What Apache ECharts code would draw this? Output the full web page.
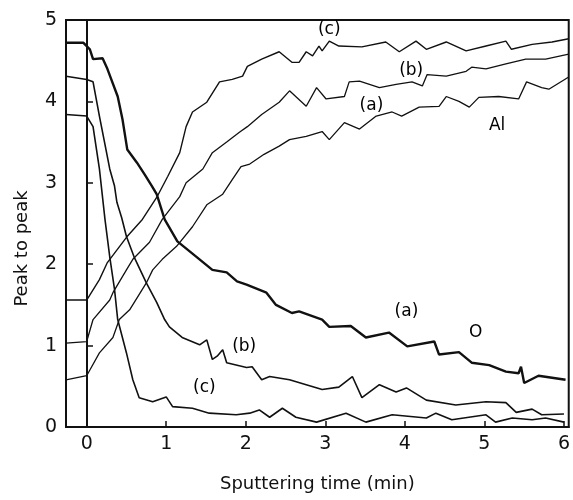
<!DOCTYPE html>
<html>
<head>
<meta charset="utf-8">
<script src="https://cdn.jsdelivr.net/npm/echarts@6/dist/echarts.min.js"></script>
<style>
    html, body { margin: 0; padding: 0; background: #fff; }
    #chart { width: 573px; height: 500px; }
</style>
</head>
<body>
<div id="chart"></div>
<script>
    // values: [time (min), peak to peak]
    var alA = [[-0.26,0.58],[0,0.63],[0.04,0.70],[0.16,0.91],[0.33,1.10],[0.41,1.32],[0.54,1.44],[0.75,1.77],[0.83,1.93],[0.95,2.06],[1.13,2.22],[1.33,2.46],[1.51,2.73],[1.71,2.86],[1.83,3.04],[1.94,3.20],[2.05,3.23],[2.23,3.35],[2.42,3.45],[2.55,3.53],[2.76,3.57],[2.96,3.63],[3.05,3.53],[3.24,3.74],[3.43,3.66],[3.64,3.82],[3.84,3.87],[3.96,3.82],[4.18,3.93],[4.43,3.94],[4.52,4.06],[4.68,4.00],[4.81,3.93],[4.93,4.05],[5.18,4.06],[5.43,4.03],[5.53,4.24],[5.72,4.17],[5.81,4.15],[6.06,4.30]];
    var alB = [[-0.26,1.03],[0,1.05],[0.08,1.32],[0.29,1.56],[0.33,1.65],[0.50,1.93],[0.58,2.06],[0.79,2.27],[0.95,2.55],[1.17,2.83],[1.25,3.00],[1.46,3.17],[1.58,3.37],[1.76,3.50],[1.92,3.62],[2.02,3.69],[2.20,3.84],[2.42,3.99],[2.55,4.13],[2.76,3.94],[2.89,4.17],[3.01,4.03],[3.24,4.06],[3.30,4.24],[3.43,4.25],[3.68,4.17],[3.89,4.21],[4.09,4.24],[4.22,4.19],[4.28,4.33],[4.52,4.31],[4.77,4.37],[4.84,4.42],[5.02,4.40],[5.27,4.46],[5.52,4.52],[5.77,4.52],[6.06,4.58]];
    var alC = [[-0.26,1.56],[0,1.56],[0.16,1.81],[0.26,2.02],[0.50,2.33],[0.70,2.55],[0.88,2.82],[1.02,3.08],[1.17,3.37],[1.25,3.69],[1.33,3.87],[1.51,3.99],[1.67,4.24],[1.83,4.27],[1.96,4.31],[2.02,4.43],[2.20,4.52],[2.42,4.61],[2.58,4.48],[2.67,4.48],[2.76,4.61],[2.84,4.56],[2.92,4.68],[2.96,4.62],[3.05,4.74],[3.17,4.68],[3.46,4.67],[3.76,4.73],[3.93,4.61],[4.14,4.74],[4.27,4.64],[4.52,4.73],[4.77,4.62],[5.02,4.68],[5.27,4.74],[5.34,4.64],[5.60,4.70],[5.85,4.73],[6.06,4.77]];
    var oA = [[-0.26,4.72],[-0.04,4.72],[0.04,4.64],[0.08,4.52],[0.20,4.53],[0.26,4.40],[0.39,4.06],[0.45,3.78],[0.51,3.41],[0.63,3.25],[0.73,3.10],[0.82,2.96],[0.88,2.86],[0.98,2.55],[1.14,2.28],[1.38,2.09],[1.58,1.93],[1.76,1.90],[1.89,1.79],[2.01,1.75],[2.26,1.65],[2.38,1.50],[2.58,1.40],[2.67,1.42],[2.96,1.32],[3.05,1.23],[3.32,1.24],[3.51,1.10],[3.80,1.16],[4.03,0.99],[4.37,1.05],[4.43,0.89],[4.68,0.92],[4.84,0.79],[5.06,0.76],[5.27,0.68],[5.43,0.66],[5.46,0.74],[5.50,0.54],[5.68,0.63],[6.02,0.58]];
    var oB = [[-0.26,4.31],[0,4.27],[0.08,4.24],[0.16,3.82],[0.25,3.37],[0.29,3.17],[0.35,2.96],[0.38,2.76],[0.44,2.57],[0.50,2.34],[0.60,2.08],[0.75,1.77],[0.88,1.53],[0.98,1.32],[1.04,1.23],[1.20,1.10],[1.42,1.01],[1.51,1.07],[1.58,0.83],[1.64,0.87],[1.71,0.95],[1.76,0.79],[2.01,0.73],[2.08,0.74],[2.20,0.58],[2.30,0.62],[2.55,0.58],[2.76,0.52],[2.96,0.46],[3.17,0.49],[3.34,0.62],[3.46,0.36],[3.68,0.52],[3.89,0.43],[4.02,0.48],[4.27,0.33],[4.64,0.27],[5.02,0.31],[5.27,0.30],[5.40,0.18],[5.60,0.22],[5.72,0.15],[6.00,0.16]];
    var oC = [[-0.26,3.84],[0,3.82],[0.08,3.69],[0.16,3.17],[0.23,2.55],[0.29,2.09],[0.35,1.69],[0.39,1.32],[0.50,0.91],[0.58,0.58],[0.66,0.36],[0.83,0.31],[1.00,0.37],[1.08,0.25],[1.33,0.23],[1.54,0.17],[1.88,0.15],[2.05,0.17],[2.17,0.21],[2.30,0.12],[2.46,0.23],[2.63,0.12],[2.89,0.06],[3.26,0.17],[3.51,0.06],[3.84,0.15],[4.27,0.11],[4.39,0.17],[4.59,0.09],[5.02,0.15],[5.14,0.06],[5.35,0.11],[5.60,0.09],[5.77,0.11],[6.00,0.06]];

    var xTicks = [0, 1, 2, 3, 4, 5, 6];

    // curve labels, placed in data coordinates
    var labelText = ['(c)', '(b)', '(a)', 'Al', '(a)', 'O', '(b)', '(c)'];
    var labelPos = [[3.05,4.88],[4.08,4.38],[3.58,3.95],[5.16,3.70],[4.02,1.42],[4.89,1.16],[1.98,0.99],[1.48,0.48]];

    var FONT = 'DejaVu Sans';
    var INK = '#111';

    function curve(name, data, width) {
        return {
            name: name,
            type: 'line',
            data: data,
            symbol: 'none',
            smooth: false,
            silent: true,
            lineStyle: { color: INK, width: width }
        };
    }

    var series = [
        curve('Al (a)', alA, 1.3),
        curve('Al (b)', alB, 1.3),
        curve('Al (c)', alC, 1.4),
        curve('O (a)', oA, 2.4),
        curve('O (b)', oB, 1.6),
        curve('O (c)', oC, 1.6),
        {
            type: 'scatter',
            symbolSize: 0,
            silent: true,
            itemStyle: { color: INK, opacity: 1 },
            data: labelPos.map(function (p, i) { return { value: p, name: labelText[i] }; }),
            label: {
                show: true,
                position: 'inside',
                formatter: '{b}',
                fontFamily: FONT,
                fontSize: 17,
                color: '#000',
                textBorderWidth: 0
            },
            markLine: {
                silent: true,
                symbol: 'none',
                label: { show: false },
                lineStyle: { color: INK, width: 2, type: 'solid' },
                data: [{ xAxis: 0 }]
            }
        }
    ];

    var chart = echarts.init(document.getElementById('chart'));
    chart.setOption({
        animation: false,
        backgroundColor: '#fff',
        grid: {
            left: 66, right: 3, top: 20, bottom: 73,
            show: true,
            borderColor: INK,
            borderWidth: 2,
            backgroundColor: 'transparent'
        },
        xAxis: {
            type: 'value',
            min: -0.26,
            max: 6.06,
            name: 'Sputtering time (min)',
            nameLocation: 'middle',
            nameGap: 48,
            nameTextStyle: { fontFamily: FONT, fontSize: 18, color: INK },
            axisLine: { show: true, onZero: false, lineStyle: { color: INK, width: 2 } },
            axisTick: { show: true, inside: true, length: 6, customValues: xTicks, lineStyle: { color: INK, width: 1.5 } },
            axisLabel: { customValues: xTicks, fontFamily: FONT, fontSize: 19, color: INK, margin: 8 },
            splitLine: { show: false }
        },
        yAxis: [{
            type: 'value',
            min: 0,
            max: 5,
            interval: 1,
            name: 'Peak to peak',
            nameLocation: 'middle',
            nameGap: 35,
            nameTextStyle: { fontFamily: FONT, fontSize: 18, color: INK, padding: [0, 50, 0, 0] },
            axisLine: { show: true, lineStyle: { color: INK, width: 2 } },
            axisTick: { show: true, inside: true, length: 5, lineStyle: { color: INK, width: 1.5 } },
            axisLabel: { fontFamily: FONT, fontSize: 19, color: INK, margin: 9 },
            splitLine: { show: false }
        }, {
            // tick marks carried by the vertical line at t = 0
            type: 'value',
            position: 'left',
            offset: -21,
            min: 0,
            max: 5,
            interval: 1,
            axisLine: { show: false },
            axisTick: { show: true, inside: true, length: 6, lineStyle: { color: INK, width: 1.5 } },
            axisLabel: { show: false },
            splitLine: { show: false }
        }],
        series: series
    });
</script>
</body>
</html>
